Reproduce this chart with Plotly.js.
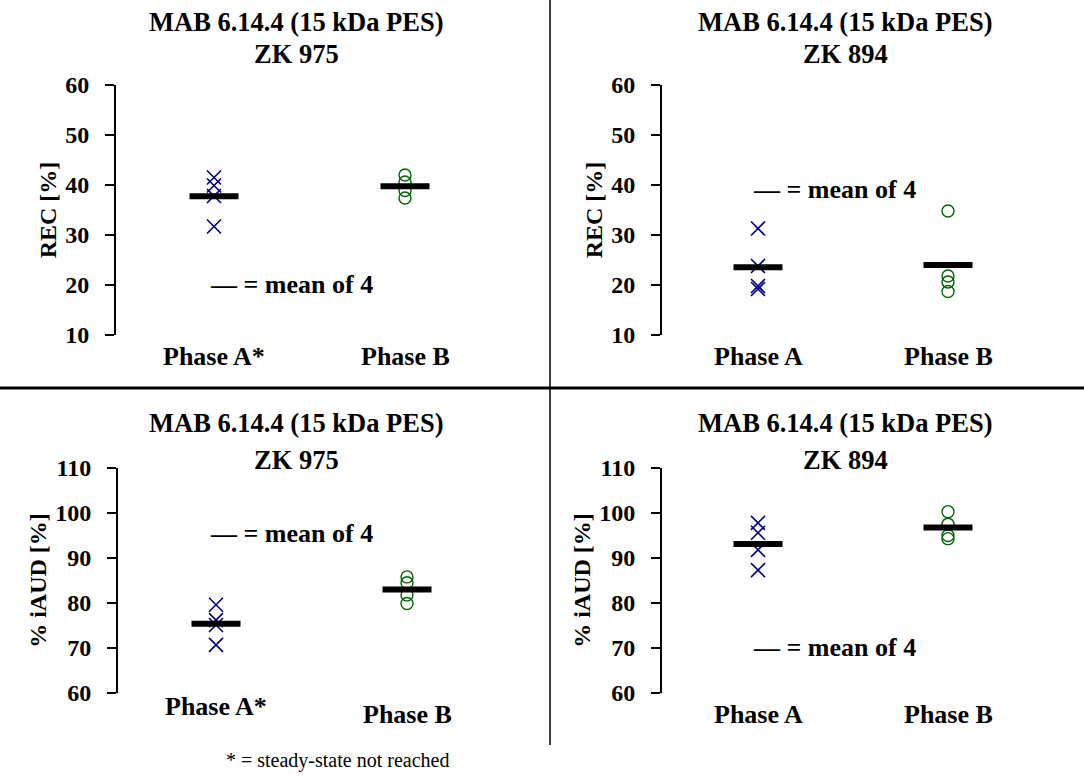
<!DOCTYPE html>
<html><head><meta charset="utf-8">
<script src="https://cdn.plot.ly/plotly-3.0.1.min.js"></script>
<style>html,body{margin:0;padding:0;background:#fff}#chart{width:1084px;height:778px}</style>
</head><body><div id="chart"></div>
<script>
// ---- data ----
const catsZK975 = ['Phase A*', 'Phase B'];
const catsZK894 = ['Phase A', 'Phase B'];
const recZK975A = [41.5, 39.9, 37.8, 31.7];
const recZK975B = [42.0, 40.6, 38.9, 37.4];
const recZK894A = [31.3, 23.8, 19.8, 19.2];
const recZK894B = [34.8, 21.8, 20.6, 18.7];
const iaudZK975A = [79.6, 76.2, 75.1, 70.7];
const iaudZK975B = [85.8, 84.5, 81.8, 79.9];
const iaudZK894A = [97.8, 95.6, 91.8, 87.3];
const iaudZK894B = [100.3, 97.5, 95.0, 94.3];
const recTicks = [10, 20, 30, 40, 50, 60];
const iaudTicks = [60, 70, 80, 90, 100, 110];
const titleLine1 = 'MAB 6.14.4 (15 kDa PES)';
const meanNote = '— = mean of 4';
const footnote = '* = steady-state not reached';

// ---- layout helpers ----
const W = 1084, H = 778;
const FONT = 'Liberation Serif, Times New Roman, serif';
const px = v => v / W, py = v => 1 - v / H;
const mean = a => a.reduce((s, v) => s + v, 0) / a.length;

const panels = [
  {id: '', cats: catsZK975, A: recZK975A, B: recZK975B, ticks: recTicks, ytitle: 'REC [%]', zk: 'ZK 975',
   axisX: 116, ax: 214, bx: 405, right: 530, top: 85, bottom: 335, tx: 296, t1: 22, t2: 54,
   note: {x: 291, y: 284}, catY: 356, catYB: 356},
  {id: '2', cats: catsZK894, A: recZK894A, B: recZK894B, ticks: recTicks, ytitle: 'REC [%]', zk: 'ZK 894',
   axisX: 662, ax: 758, bx: 948, right: 1080, top: 85, bottom: 335, tx: 845, t1: 22, t2: 54,
   note: {x: 835, y: 190}, catY: 356, catYB: 356},
  {id: '3', cats: catsZK975, A: iaudZK975A, B: iaudZK975B, ticks: iaudTicks, ytitle: '% iAUD [%]', zk: 'ZK 975',
   axisX: 118, ax: 216, bx: 407, right: 530, top: 468, bottom: 693, tx: 296, t1: 423, t2: 460,
   note: {x: 291, y: 533}, catY: 706, catYB: 714},
  {id: '4', cats: catsZK894, A: iaudZK894A, B: iaudZK894B, ticks: iaudTicks, ytitle: '% iAUD [%]', zk: 'ZK 894',
   axisX: 662, ax: 758, bx: 948, right: 1080, top: 468, bottom: 693, tx: 845, t1: 423, t2: 460,
   note: {x: 835, y: 647}, catY: 714, catYB: 714}
];

const traces = [];
const layout = {
  width: W, height: H, margin: {l: 0, r: 0, t: 0, b: 0},
  paper_bgcolor: '#fff', plot_bgcolor: 'rgba(0,0,0,0)', showlegend: false,
  font: {family: FONT, color: '#000'},
  annotations: [], shapes: []
};

panels.forEach(p => {
  const xa = 'x' + p.id, ya = 'y' + p.id;
  const unit = p.bx - p.ax;
  const lo = -(p.ax - p.axisX) / unit;
  const hi = lo + (p.right - p.axisX) / unit;
  layout['xaxis' + p.id] = {
    domain: [px(p.axisX), px(p.right)], anchor: ya, type: 'category', categoryorder: 'array',
    categoryarray: p.cats, range: [lo, hi], showline: false, showgrid: false, zeroline: false,
    ticks: '', showticklabels: false, fixedrange: true
  };
  layout['yaxis' + p.id] = {
    domain: [py(p.bottom), py(p.top)], anchor: xa,
    range: [p.ticks[0], p.ticks[p.ticks.length - 1]], tickvals: p.ticks,
    showline: true, linecolor: '#000', linewidth: 2, ticks: 'outside', ticklen: 9, tickwidth: 2,
    tickcolor: '#000', showgrid: false, zeroline: false, ticklabelstandoff: 11,
    tickfont: {family: FONT, size: 24, weight: 'bold', color: '#000'},
    title: {text: p.ytitle, standoff: 2, font: {family: FONT, size: 24, weight: 'bold', color: '#000'}},
    automargin: false, fixedrange: true
  };
  const cA = p.cats[0], cB = p.cats[1];
  traces.push({type: 'scatter', mode: 'markers', xaxis: xa, yaxis: ya,
    x: p.A.map(() => cA), y: p.A,
    marker: {symbol: 'x-thin', size: 14, color: '#000080', line: {width: 1.6, color: '#000080'}}});
  traces.push({type: 'scatter', mode: 'markers', xaxis: xa, yaxis: ya,
    x: p.B.map(() => cB), y: p.B,
    marker: {symbol: 'circle-open', size: 12, color: '#006400', line: {width: 1.4, color: '#006400'}}});
  traces.push({type: 'scatter', mode: 'markers', xaxis: xa, yaxis: ya,
    x: [cA, cB], y: [mean(p.A), mean(p.B)],
    marker: {symbol: 'line-ew', size: 35, color: '#000', line: {width: 6, color: '#000'}}});

  const titleFont = {family: FONT, size: 26.5, weight: 'bold', color: '#000'};
  const noteFont = {family: FONT, size: 26, weight: 'bold', color: '#000'};
  const catFont = {family: FONT, size: 26, weight: 'bold', color: '#000'};
  layout.annotations.push(
    {text: titleLine1, xref: 'paper', yref: 'paper', x: px(p.tx), y: py(p.t1), showarrow: false,
     xanchor: 'center', yanchor: 'middle', font: titleFont},
    {text: p.zk, xref: 'paper', yref: 'paper', x: px(p.tx), y: py(p.t2), showarrow: false,
     xanchor: 'center', yanchor: 'middle', font: titleFont},
    {text: meanNote, xref: 'paper', yref: 'paper', x: px(p.note.x), y: py(p.note.y), showarrow: false,
     xanchor: 'center', yanchor: 'middle', font: noteFont},
    {text: cA, xref: xa, yref: 'paper', x: cA, y: py(p.catY), showarrow: false,
     xanchor: 'center', yanchor: 'middle', font: catFont},
    {text: cB, xref: xa, yref: 'paper', x: cB, y: py(p.catYB), showarrow: false,
     xanchor: 'center', yanchor: 'middle', font: catFont}
  );
});

layout.annotations.push({text: footnote, xref: 'paper', yref: 'paper', x: px(337), y: py(760),
  showarrow: false, xanchor: 'center', yanchor: 'middle',
  font: {family: FONT, size: 20, color: '#000'}});

layout.shapes.push(
  {type: 'line', xref: 'paper', yref: 'paper', x0: 0, x1: 1, y0: py(388), y1: py(388),
   line: {color: '#000', width: 3}},
  {type: 'line', xref: 'paper', yref: 'paper', x0: px(550), x1: px(550), y0: py(0), y1: py(745),
   line: {color: '#000', width: 1.5}}
);

Plotly.newPlot('chart', traces, layout, {displayModeBar: false, staticPlot: true});
</script></body></html>
